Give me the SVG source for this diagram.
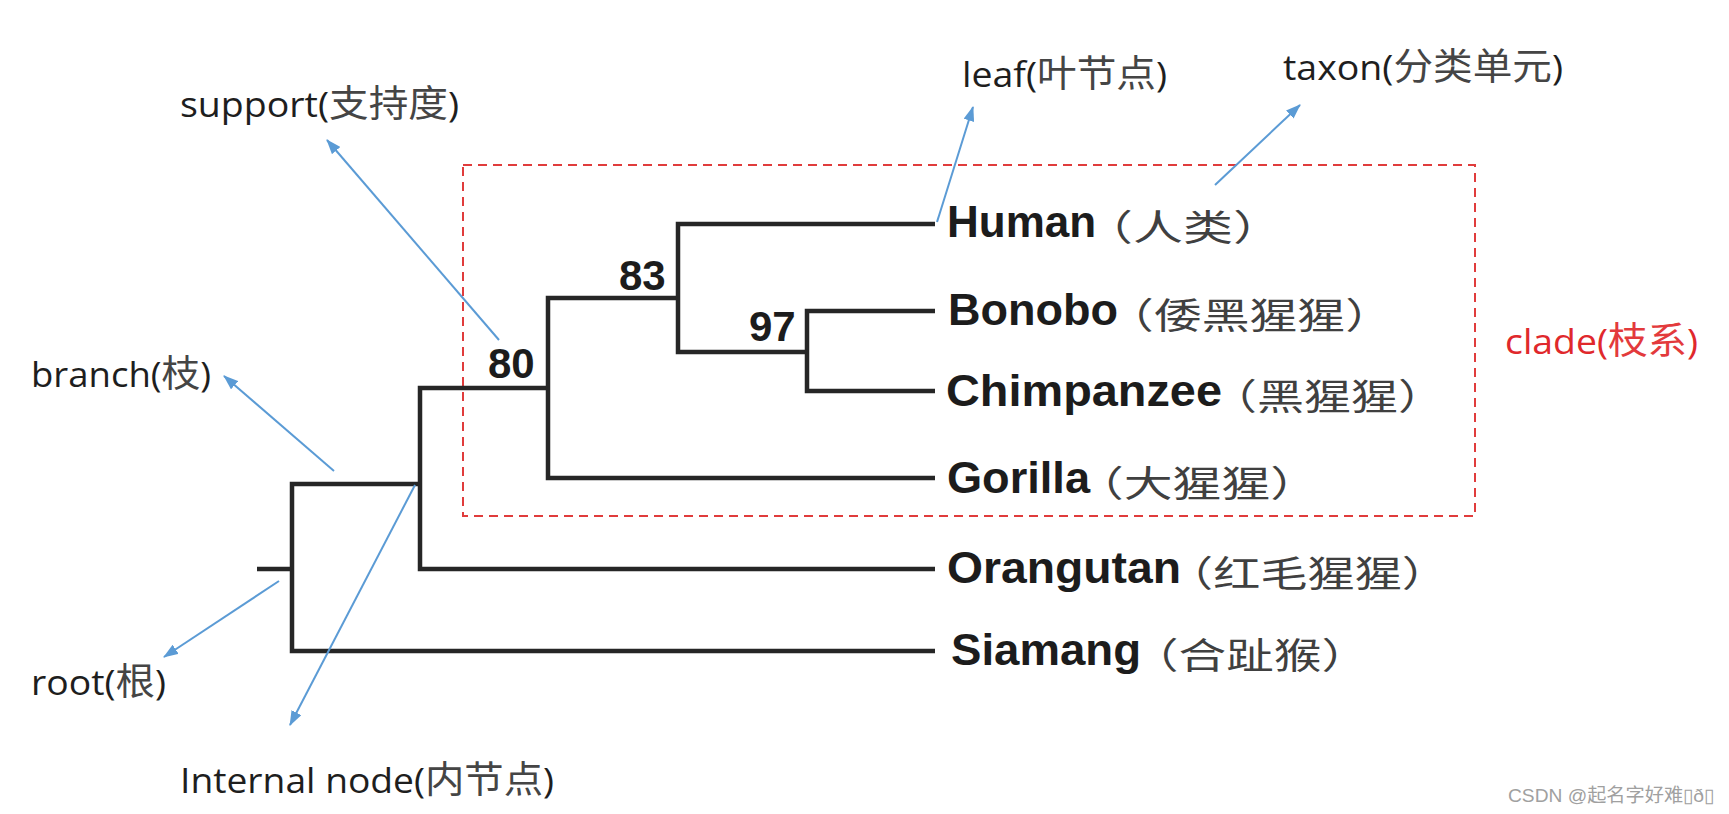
<svg xmlns="http://www.w3.org/2000/svg" width="1729" height="814" viewBox="0 0 1729 814">
<style>
.br{fill:none;stroke:#262626;stroke-width:4.5;stroke-linejoin:miter;stroke-linecap:butt}
.lat{font-family:"Liberation Sans",Arial,sans-serif;font-weight:bold;font-size:44px;fill:#1c1c1c}
.cjk{font-family:"Noto Sans CJK SC",sans-serif;font-size:36px;fill:#404040}
.num{font-family:"Liberation Sans",Arial,sans-serif;font-weight:bold;font-size:42px;fill:#1c1c1c}
.ann{font-family:"Open Sans","Noto Sans CJK SC",sans-serif;font-size:35px;fill:#1e1e1e}
.ann .c{font-family:"Noto Sans CJK SC",sans-serif;font-size:37px;fill:#454545}
.red{fill:#e0282c}
.red .c{fill:#e33a3c}
.arr{stroke:#5b9bd5;stroke-width:2;fill:none;marker-end:url(#ah)}
.clade{fill:none;stroke:#e03c3c;stroke-width:2;stroke-dasharray:9 6}
.wm{font-family:"Liberation Sans","Noto Sans CJK SC",sans-serif;font-size:19px;fill:#a0a0a0}
</style>
<defs>
<marker id="ah" markerUnits="userSpaceOnUse" markerWidth="15" markerHeight="11" refX="14" refY="5.5" orient="auto">
<path d="M0,0 L15,5.5 L0,11 z" fill="#5b9bd5"/>
</marker>
</defs>
<rect width="1729" height="814" fill="#ffffff"/>
<g id="clade-box"><rect class="clade" x="463" y="165" width="1012" height="351"/></g>
<g id="connectors">
<path class="br" d="M935,651 H292 V484 H420"/>
<path class="br" d="M257,569 H292"/>
<path class="br" d="M935,569 H420 V388 H548"/>
<path class="br" d="M935,478 H548 V298 H678"/>
<path class="br" d="M935,224 H678 V352 H807"/>
<path class="br" d="M935,311 H807 V391 H935"/>
<path class="arr" d="M499,340 L327,140"/>
<path class="arr" d="M937,222 L973,107"/>
<path class="arr" d="M1215,185 L1300,105"/>
<path class="arr" d="M334,471 L224,376"/>
<path class="arr" d="M279,581 L164,657"/>
<path class="arr" d="M415,485 L290,725"/>
</g>
<g id="support-values">
<text class="num" x="488" y="378">80</text>
<text class="num" x="619" y="290">83</text>
<text class="num" x="749" y="341">97</text>
</g>
<g id="leaf-human"><text class="lat" x="947" y="237">Human</text><text class="cjk" x="1083" y="241" textLength="200" lengthAdjust="spacingAndGlyphs">（人类）</text></g>
<g id="leaf-bonobo"><text class="lat" x="948" y="325" textLength="170" lengthAdjust="spacingAndGlyphs">Bonobo</text><text class="cjk" x="1106" y="329" textLength="287" lengthAdjust="spacingAndGlyphs">（倭黑猩猩）</text></g>
<g id="leaf-chimpanzee"><text class="lat" x="946" y="406" textLength="276" lengthAdjust="spacingAndGlyphs">Chimpanzee</text><text class="cjk" x="1210" y="410" textLength="235" lengthAdjust="spacingAndGlyphs">（黑猩猩）</text></g>
<g id="leaf-gorilla"><text class="lat" x="947" y="493" textLength="143" lengthAdjust="spacingAndGlyphs">Gorilla</text><text class="cjk" x="1075" y="497" textLength="244" lengthAdjust="spacingAndGlyphs">（大猩猩）</text></g>
<g id="leaf-orangutan"><text class="lat" x="947" y="583" textLength="234" lengthAdjust="spacingAndGlyphs">Orangutan</text><text class="cjk" x="1166" y="587" textLength="283" lengthAdjust="spacingAndGlyphs">（红毛猩猩）</text></g>
<g id="leaf-siamang"><text class="lat" x="951" y="665" textLength="190" lengthAdjust="spacingAndGlyphs">Siamang</text><text class="cjk" x="1131" y="669" textLength="238" lengthAdjust="spacingAndGlyphs">（合趾猴）</text></g>
<g id="label-support"><text class="ann" x="180" y="117" textLength="279" lengthAdjust="spacingAndGlyphs">support(<tspan class="c">支持度</tspan>)</text></g>
<g id="label-leaf"><text class="ann" x="962" y="87" textLength="205" lengthAdjust="spacingAndGlyphs">leaf(<tspan class="c">叶节点</tspan>)</text></g>
<g id="label-taxon"><text class="ann" x="1283" y="80" textLength="280" lengthAdjust="spacingAndGlyphs">taxon(<tspan class="c">分类单元</tspan>)</text></g>
<g id="label-branch"><text class="ann" x="31" y="387" textLength="180" lengthAdjust="spacingAndGlyphs">branch(<tspan class="c">枝</tspan>)</text></g>
<g id="label-root"><text class="ann" x="31" y="695" textLength="135" lengthAdjust="spacingAndGlyphs">root(<tspan class="c">根</tspan>)</text></g>
<g id="label-internal"><text class="ann" x="180" y="793" textLength="374" lengthAdjust="spacingAndGlyphs">Internal node(<tspan class="c">内节点</tspan>)</text></g>
<g id="label-clade"><text class="ann red" x="1505" y="354" textLength="193" lengthAdjust="spacingAndGlyphs">clade(<tspan class="c">枝系</tspan>)</text></g>
<g id="watermark"><text class="wm" x="1508" y="802" textLength="206" lengthAdjust="spacingAndGlyphs">CSDN @起名字好难▯ð▯</text></g>
</svg>
